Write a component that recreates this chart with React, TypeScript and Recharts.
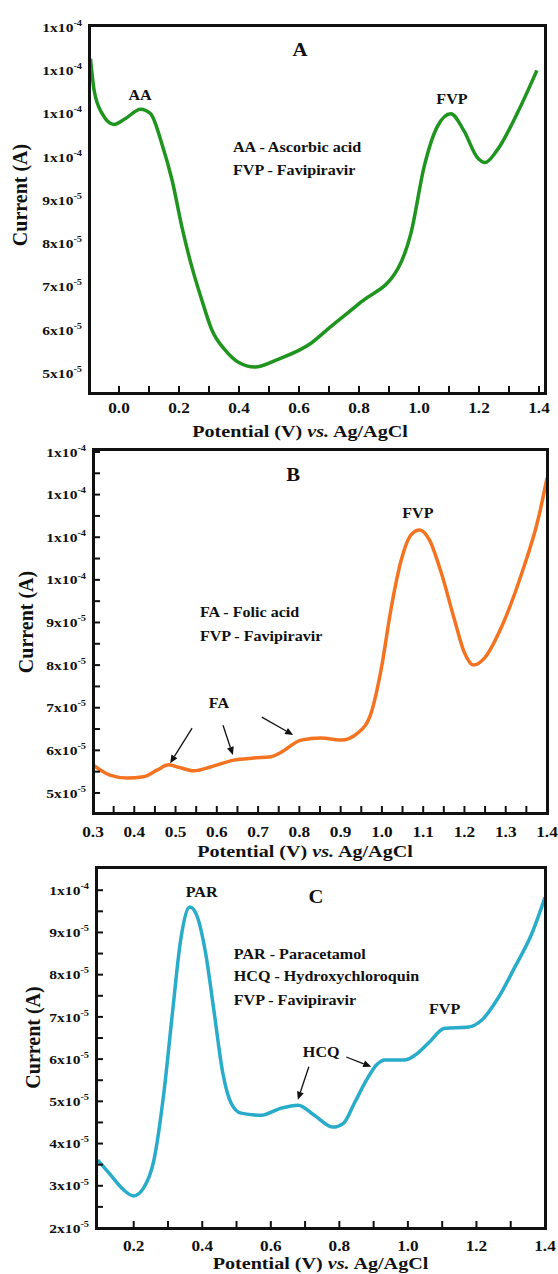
import React from "react";
import {
  LineChart,
  Line,
  XAxis,
  YAxis,
  ReferenceDot,
  ReferenceLine,
} from "recharts";

const FONT = "'Liberation Serif', 'Times New Roman', serif";
const SX = 1.15; // glyphs in this figure run a touch wide
const INK = "#111";
const TICK = 7;

// ── A: ascorbic acid + favipiravir ─────────────────────────────────────────
const potentialA = [-0.095, -0.083, -0.056, -0.017, 0.022, 0.072, 0.105, 0.143, 0.177, 0.21, 0.243, 0.276, 0.31, 0.354, 0.398, 0.453, 0.53, 0.64, 0.7, 0.806, 0.93, 0.973, 1.017, 1.061, 1.106, 1.15, 1.194, 1.22, 1.26, 1.327, 1.393];
const currentA = [12.27e-5, 11.54e-5, 11.0e-5, 10.75e-5, 10.89e-5, 11.1e-5, 11.0e-5, 10.3e-5, 9.46e-5, 8.37e-5, 7.45e-5, 6.69e-5, 5.99e-5, 5.53e-5, 5.25e-5, 5.14e-5, 5.32e-5, 5.69e-5, 6.04e-5, 6.64e-5, 7.42e-5, 8.23e-5, 9.77e-5, 10.7e-5, 11.0e-5, 10.6e-5, 9.99e-5, 9.87e-5, 10.15e-5, 11.0e-5, 12.0e-5];
const xMajorsA = [0, 0.2, 0.4, 0.6, 0.8, 1.0, 1.2, 1.4];
const xMinorsA = [0.1, 0.3, 0.5, 0.7, 0.9, 1.1, 1.3];
const yMajorsA = [5e-5, 6e-5, 7e-5, 8e-5, 9e-5, 10e-5, 11e-5, 12e-5, 13e-5];
const notesA = [
  { x: 0.603, y: 12.47e-5, text: "A", kind: "panel" },
  { x: 0.07, y: 11.43e-5, text: "AA", kind: "peak" },
  { x: 1.11, y: 11.32e-5, text: "FVP", kind: "peak" },
  { x: 0.38, y: 10.23e-5, text: "AA - Ascorbic acid", kind: "key" },
  { x: 0.38, y: 9.7e-5, text: "FVP - Favipiravir", kind: "key" },
];

// ── B: folic acid + favipiravir ────────────────────────────────────────────
const potentialB = [0.3, 0.341, 0.383, 0.422, 0.456, 0.483, 0.512, 0.544, 0.585, 0.641, 0.69, 0.731, 0.755, 0.804, 0.852, 0.901, 0.942, 0.974, 0.998, 1.023, 1.047, 1.071, 1.091, 1.115, 1.144, 1.176, 1.2, 1.222, 1.249, 1.29, 1.339, 1.38, 1.4];
const currentB = [5.66e-5, 5.42e-5, 5.35e-5, 5.38e-5, 5.54e-5, 5.66e-5, 5.59e-5, 5.52e-5, 5.61e-5, 5.77e-5, 5.82e-5, 5.85e-5, 5.95e-5, 6.24e-5, 6.29e-5, 6.24e-5, 6.41e-5, 6.88e-5, 7.89e-5, 9.37e-5, 10.47e-5, 11.06e-5, 11.17e-5, 10.94e-5, 10.16e-5, 9.06e-5, 8.29e-5, 8.0e-5, 8.17e-5, 8.9e-5, 10.16e-5, 11.48e-5, 12.39e-5];
const xMajorsB = [0.3, 0.4, 0.5, 0.6, 0.7, 0.8, 0.9, 1.0, 1.1, 1.2, 1.3, 1.4];
const xMinorsB = [0.35, 0.45, 0.55, 0.65, 0.75, 0.85, 0.95, 1.05, 1.15, 1.25, 1.35];
const yMajorsB = [5e-5, 6e-5, 7e-5, 8e-5, 9e-5, 10e-5, 11e-5, 12e-5, 13e-5];
const yMinorsB = [5.5e-5, 6.5e-5, 7.5e-5, 8.5e-5, 9.5e-5, 10.5e-5, 11.5e-5, 12.5e-5];
const notesB = [
  { x: 0.785, y: 12.46e-5, text: "B", kind: "panel" },
  { x: 1.087, y: 11.57e-5, text: "FVP", kind: "peak" },
  { x: 0.559, y: 9.24e-5, text: "FA - Folic acid", kind: "key" },
  { x: 0.559, y: 8.68e-5, text: "FVP - Favipiravir", kind: "key" },
  { x: 0.605, y: 7.11e-5, text: "FA", kind: "peak" },
];
const arrowsB = [
  { x1: 0.54, y1: 6.52e-5, x2: 0.487, y2: 5.7e-5 },
  { x1: 0.615, y1: 6.59e-5, x2: 0.639, y2: 5.89e-5 },
  { x1: 0.709, y1: 6.78e-5, x2: 0.785, y2: 6.36e-5 },
];

// ── C: paracetamol + hydroxychloroquine + favipiravir ──────────────────────
const potentialC = [0.095, 0.133, 0.171, 0.2, 0.229, 0.259, 0.288, 0.313, 0.337, 0.364, 0.386, 0.41, 0.435, 0.46, 0.484, 0.513, 0.572, 0.63, 0.68, 0.727, 0.782, 0.812, 0.844, 0.879, 0.908, 0.932, 0.99, 1.02, 1.06, 1.107, 1.177, 1.215, 1.265, 1.312, 1.362, 1.4];
const currentC = [3.61e-5, 3.25e-5, 2.9e-5, 2.76e-5, 2.95e-5, 3.61e-5, 5.2e-5, 7.09e-5, 8.82e-5, 9.6e-5, 9.36e-5, 8.5e-5, 7.09e-5, 5.67e-5, 4.96e-5, 4.72e-5, 4.67e-5, 4.84e-5, 4.91e-5, 4.67e-5, 4.39e-5, 4.48e-5, 4.96e-5, 5.5e-5, 5.86e-5, 5.98e-5, 5.98e-5, 6.09e-5, 6.38e-5, 6.73e-5, 6.76e-5, 6.92e-5, 7.47e-5, 8.18e-5, 8.98e-5, 9.83e-5];
const xMajorsC = [0.2, 0.4, 0.6, 0.8, 1.0, 1.2, 1.4];
const xMinorsC = [0.3, 0.5, 0.7, 0.9, 1.1, 1.3];
const yMajorsC = [2e-5, 3e-5, 4e-5, 5e-5, 6e-5, 7e-5, 8e-5, 9e-5, 10e-5];
const yMinorsC = [2.5e-5, 3.5e-5, 4.5e-5, 5.5e-5, 6.5e-5, 7.5e-5, 8.5e-5, 9.5e-5];
const notesC = [
  { x: 0.732, y: 9.84e-5, text: "C", kind: "panel" },
  { x: 0.398, y: 9.96e-5, text: "PAR", kind: "peak" },
  { x: 0.492, y: 8.47e-5, text: "PAR - Paracetamol", kind: "key" },
  { x: 0.492, y: 7.95e-5, text: "HCQ - Hydroxychloroquin", kind: "key" },
  { x: 0.492, y: 7.4e-5, text: "FVP - Favipiravir", kind: "key" },
  { x: 0.747, y: 6.17e-5, text: "HCQ", kind: "peak" },
  { x: 1.107, y: 7.17e-5, text: "FVP", kind: "peak" },
];
const arrowsC = [
  { x1: 0.711, y1: 5.82e-5, x2: 0.679, y2: 5.04e-5 },
  { x1: 0.82, y1: 6.05e-5, x2: 0.893, y2: 5.82e-5 },
];

type Note = { x: number; y: number; text: string; kind: string };
type Arrow = { x1: number; y1: number; x2: number; y2: number };

const NOTE_SIZE: Record<string, number> = { panel: 18, peak: 14, key: 14 };

const same = (a: number, b: number) => Math.abs(a - b) <= Math.abs(a) * 1e-6;

function sci(v: number): [number, number] {
  let e = Math.floor(Math.log10(v) + 1e-9);
  let m = Math.round(v / Math.pow(10, e));
  if (m >= 10) {
    m = Math.round(m / 10);
    e += 1;
  }
  return [m, e];
}

const txt = {
  fontFamily: FONT,
  fontWeight: 700,
  fill: INK,
};

// labels only; the tick marks come from the axis' own tickLine (pointing inward)
const xTick = (majors: number[], dy: number) => (p: any) => {
  const v = p.payload.value;
  if (!majors.some((m) => same(m, v))) return <g />;
  return (
    <text transform={`translate(${p.x},${p.y + dy}) scale(${SX},1)`} textAnchor="middle" dominantBaseline="central" fontSize={15} {...txt}>
      {v.toFixed(1)}
    </text>
  );
};

const yTick = (majors: number[]) => (p: any) => {
  const v = p.payload.value;
  if (!majors.some((m) => same(m, v))) return <g />;
  const [m, e] = sci(v);
  return (
    <text transform={`translate(${p.x - 7},${p.y}) scale(${SX},1)`} textAnchor="end" dominantBaseline="central" fontSize={13.5} {...txt}>
      {m}x10<tspan dy={-5} fontSize={9}>{e}</tspan>
    </text>
  );
};

const XTitle = ({ cx, cy }: { cx: number; cy: number }) => (
  <text transform={`translate(${cx},${cy}) scale(${SX},1)`} textAnchor="middle" dominantBaseline="central" fontSize={17.5} {...txt}>
    Potential (V) <tspan fontStyle="italic">vs.</tspan> Ag/AgCl
  </text>
);

const YTitle = ({ cx, cy }: { cx: number; cy: number }) => (
  <text transform={`translate(${cx},${cy}) rotate(-90)`} textAnchor="middle" dominantBaseline="central" fontSize={20} {...txt}>
    Current (A)
  </text>
);

interface PanelProps {
  top: number;
  height: number;
  potential: number[];
  current: number[];
  color: string;
  xDomain: [number, number];
  yDomain: [number, number];
  xMajors: number[];
  xMinors: number[];
  yMajors: number[];
  yMinors: number[];
  yTickMarks: boolean;
  marginTop: number;
  marginRight: number;
  yAxisWidth: number;
  xAxisHeight: number;
  xLabelDy: number;
  xTitle: { dx: number; dy: number };
  yTitle: { x: number; dy: number };
  notes: Note[];
  arrows: Arrow[];
}

const arrowShape = (s: any) => {
  const { x1, y1, x2, y2 } = s;
  const a = Math.atan2(y2 - y1, x2 - x1);
  const L = 8;
  const W = 3.5;
  const bx = x2 - L * Math.cos(a);
  const by = y2 - L * Math.sin(a);
  const pts = `${x2},${y2} ${bx - W * Math.sin(a)},${by + W * Math.cos(a)} ${bx + W * Math.sin(a)},${by - W * Math.cos(a)}`;
  return (
    <g>
      <line x1={x1} y1={y1} x2={bx} y2={by} stroke={INK} strokeWidth={1.3} />
      <polygon points={pts} fill={INK} />
    </g>
  );
};

function Panel(props: PanelProps) {
  const { top, height, potential, current, color, xDomain, yDomain } = props;
  const data = potential.map((p, i) => ({ p, i: current[i] }));
  const plotLeft = props.yAxisWidth;
  const plotRight = 558 - props.marginRight;
  const plotTop = props.marginTop;
  const plotBottom = height - props.xAxisHeight;
  const xTicks = [...props.xMajors, ...props.xMinors].sort((a, b) => a - b);
  const yTicks = [...props.yMajors, ...props.yMinors].sort((a, b) => a - b);
  const tickLine = { stroke: INK, strokeWidth: 2 };

  return (
    <div style={{ position: "absolute", left: 0, top, width: 558, height }}>
      <LineChart width={558} height={height} data={data} margin={{ top: props.marginTop, right: props.marginRight, bottom: 0, left: 0 }}>
        <XAxis
          type="number"
          dataKey="p"
          domain={xDomain}
          allowDataOverflow
          ticks={xTicks}
          interval={0}
          tickSize={-TICK}
          tickMargin={TICK}
          axisLine={false}
          tickLine={tickLine}
          stroke={INK}
          height={props.xAxisHeight}
          tick={xTick(props.xMajors, props.xLabelDy)}
          label={<XTitle cx={(plotLeft + plotRight) / 2 + props.xTitle.dx} cy={plotBottom + props.xTitle.dy} />}
        />
        <YAxis
          type="number"
          domain={yDomain}
          allowDataOverflow
          ticks={yTicks}
          interval={0}
          tickSize={-TICK}
          tickMargin={TICK}
          axisLine={false}
          tickLine={props.yTickMarks ? tickLine : false}
          stroke={INK}
          width={props.yAxisWidth}
          tick={yTick(props.yMajors)}
          label={<YTitle cx={props.yTitle.x} cy={(plotTop + plotBottom) / 2 + props.yTitle.dy} />}
        />
        <Line type="monotone" dataKey="i" stroke={color} strokeWidth={3.5} dot={false} activeDot={false} isAnimationActive={false} />
        {props.notes.map((n) => (
          <ReferenceDot
            key={n.text}
            x={n.x}
            y={n.y}
            r={0}
            ifOverflow="visible"
            shape={(s: any) => (
              <text
                transform={`translate(${s.cx},${s.cy}) scale(${SX},1)`}
                textAnchor={n.kind === "key" ? "start" : "middle"}
                dominantBaseline="central"
                fontSize={NOTE_SIZE[n.kind]}
                {...txt}
              >
                {n.text}
              </text>
            )}
          />
        ))}
        {props.arrows.map((a, k) => (
          <ReferenceLine
            key={k}
            segment={[{ x: a.x1, y: a.y1 }, { x: a.x2, y: a.y2 }]}
            ifOverflow="visible"
            stroke={INK}
            shape={arrowShape}
          />
        ))}
      </LineChart>
      {/* box around the plot area */}
      <div
        style={{
          position: "absolute",
          left: plotLeft - 1.5,
          top: plotTop - 1.5,
          width: plotRight - plotLeft + 3,
          height: plotBottom - plotTop + 3,
          border: `3px solid ${INK}`,
          boxSizing: "border-box",
          pointerEvents: "none",
        }}
      />
    </div>
  );
}

export default function App() {
  return (
    <div style={{ position: "absolute", left: 0, top: 0, width: 558, height: 1274, background: "#fff" }}>
      <Panel
        top={0}
        height={450}
        potential={potentialA}
        current={currentA}
        color="#1f951f"
        xDomain={[-0.1, 1.42]}
        yDomain={[4.54e-5, 13.05e-5]}
        xMajors={xMajorsA}
        xMinors={xMinorsA}
        yMajors={yMajorsA}
        yMinors={[]}
        yTickMarks={false}
        marginTop={25}
        marginRight={13}
        yAxisWidth={89}
        xAxisHeight={57}
        xLabelDy={15}
        xTitle={{ dx: -17, dy: 38 }}
        yTitle={{ x: 20, dy: -14 }}
        notes={notesA}
        arrows={[]}
      />
      <Panel
        top={440}
        height={430}
        potential={potentialB}
        current={currentB}
        color="#f37321"
        xDomain={[0.3, 1.4]}
        yDomain={[4.53e-5, 13.07e-5]}
        xMajors={xMajorsB}
        xMinors={xMinorsB}
        yMajors={yMajorsB}
        yMinors={yMinorsB}
        yTickMarks={true}
        marginTop={9}
        marginRight={11}
        yAxisWidth={93}
        xAxisHeight={57}
        xLabelDy={19}
        xTitle={{ dx: -15, dy: 38 }}
        yTitle={{ x: 26, dy: -9 }}
        notes={notesB}
        arrows={arrowsB}
      />
      <Panel
        top={860}
        height={414}
        potential={potentialC}
        current={currentC}
        color="#29abca"
        xDomain={[0.09, 1.4]}
        yDomain={[2e-5, 10.55e-5]}
        xMajors={xMajorsC}
        xMinors={xMinorsC}
        yMajors={yMajorsC}
        yMinors={yMinorsC}
        yTickMarks={true}
        marginTop={7}
        marginRight={13}
        yAxisWidth={96}
        xAxisHeight={46}
        xLabelDy={18}
        xTitle={{ dx: 0, dy: 35 }}
        yTitle={{ x: 33, dy: -10 }}
        notes={notesC}
        arrows={arrowsC}
      />
    </div>
  );
}
